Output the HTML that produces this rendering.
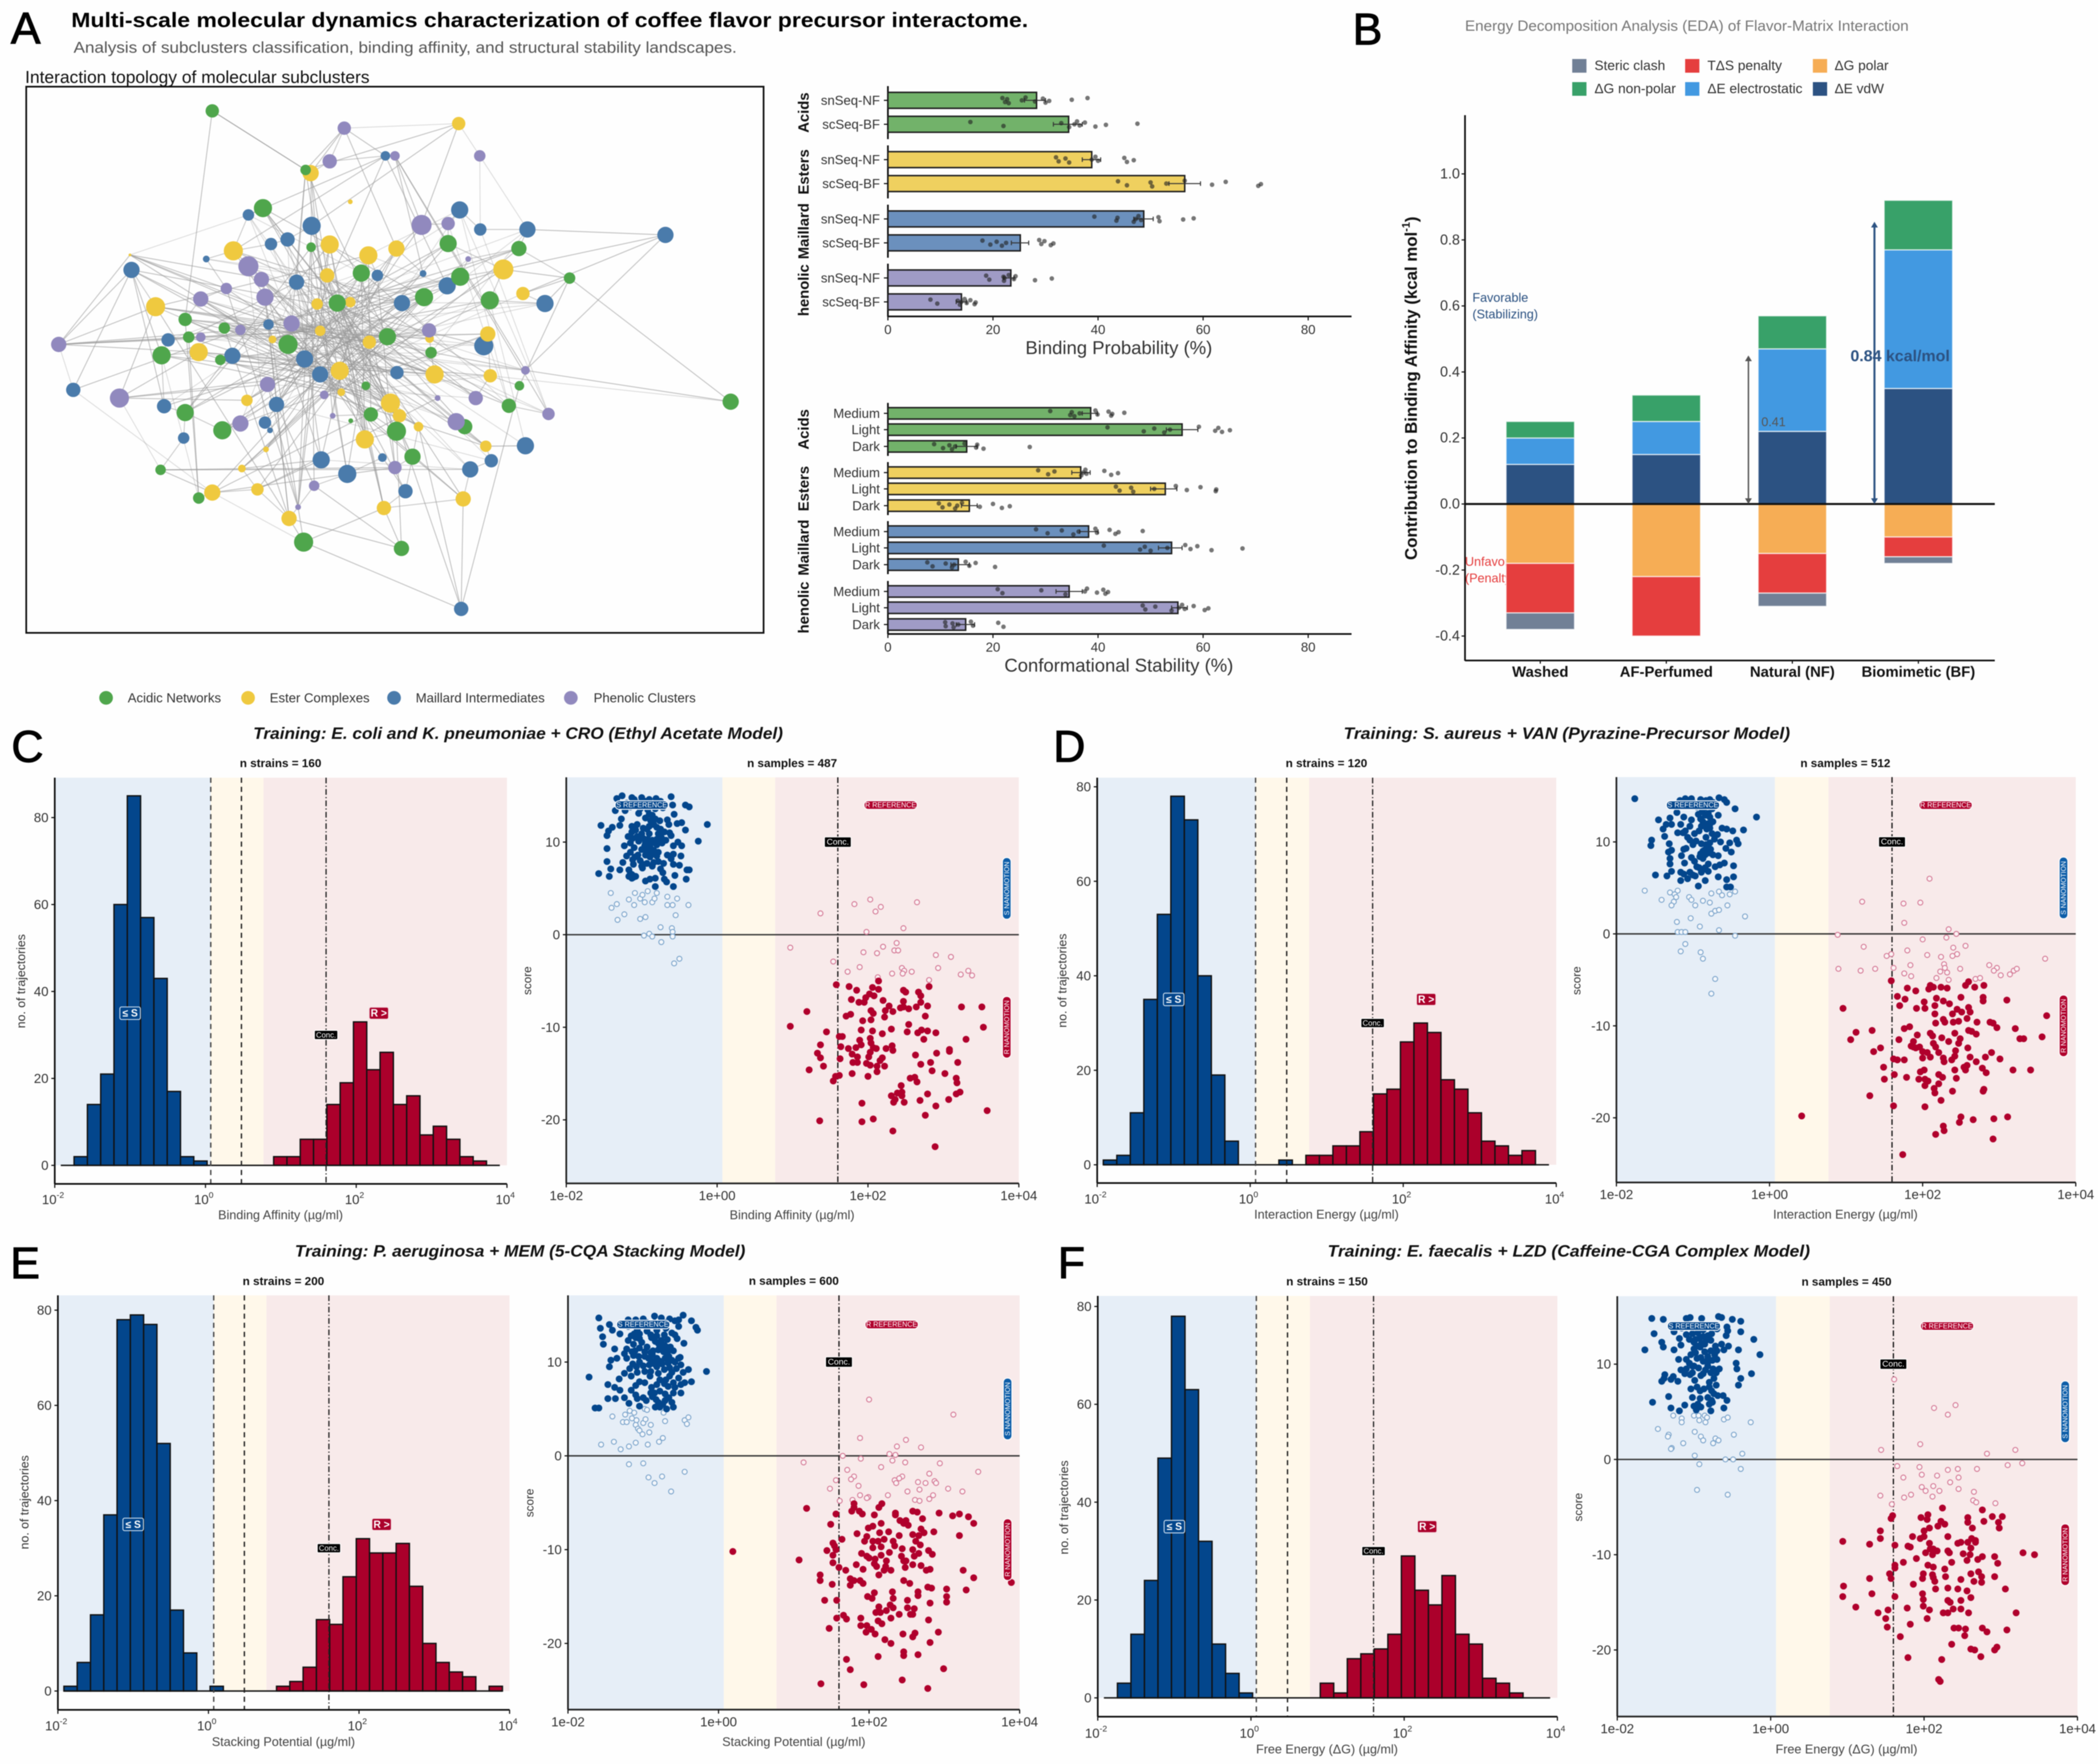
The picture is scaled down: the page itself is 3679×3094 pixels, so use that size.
<!DOCTYPE html>
<html lang="en">
<head>
<meta charset="utf-8">
<title>Coffee flavor precursor interactome</title>
<style>
html,body{margin:0;padding:0;background:#fff;}
svg{display:block;filter:blur(.8px);font-family:"Liberation Sans",sans-serif;}
</style>
</head>
<body>
<svg id="chart" xmlns="http://www.w3.org/2000/svg" width="3679" height="3094" viewBox="0 0 3679 3094">
<defs>
<clipPath id="clip-facet-1"><rect x="1380" y="455" width="60" height="100"/></clipPath>
<clipPath id="clip-facet-2"><rect x="1380" y="1012" width="60" height="100"/></clipPath>
</defs>
<rect x="0" y="0" width="3679" height="3094" fill="#fefefe"/>
<text x="19" y="76" font-size="78" fill="#000" stroke="#000" stroke-width="1.6">A</text>
<text x="2372" y="78" font-size="78" fill="#000" stroke="#000" stroke-width="1.6">B</text>
<text x="20" y="1336" font-size="78" fill="#000" stroke="#000" stroke-width="1.6">C</text>
<text x="1847" y="1336" font-size="78" fill="#000" stroke="#000" stroke-width="1.6">D</text>
<text x="18" y="2242" font-size="78" fill="#000" stroke="#000" stroke-width="1.6">E</text>
<text x="1855" y="2242" font-size="78" fill="#000" stroke="#000" stroke-width="1.6">F</text>
<text x="125" y="35" font-size="36" font-weight="bold" fill="#000" dominant-baseline="central" textLength="1678" lengthAdjust="spacingAndGlyphs">Multi-scale molecular dynamics characterization of coffee flavor precursor interactome.</text>
<text x="129" y="83" font-size="28" fill="#555" dominant-baseline="central" textLength="1163" lengthAdjust="spacingAndGlyphs">Analysis of subclusters classification, binding affinity, and structural stability landscapes.</text>
<text x="44" y="135" font-size="31" fill="#111" dominant-baseline="central" textLength="604" lengthAdjust="spacingAndGlyphs">Interaction topology of molecular subclusters</text>
<rect x="46" y="152" width="1293" height="958" fill="none" stroke="#111" stroke-width="3"/>
<g id="network"></g>
<g id="network-legend"></g>
<g id="bars"></g>
<text x="2569" y="45" font-size="26" fill="#777" dominant-baseline="central" textLength="778" lengthAdjust="spacingAndGlyphs">Energy Decomposition Analysis (EDA) of Flavor-Matrix Interaction</text>
<text x="2475" y="681" font-size="29.5" font-weight="bold" fill="#111" text-anchor="middle" dominant-baseline="central" transform="rotate(-90 2475 681)">Contribution to Binding Affinity (kcal mol<tspan dy="-9" font-size="19">-1</tspan><tspan dy="9">)</tspan></text>
<text x="2569" y="985" font-size="22" fill="#e53e3e" dominant-baseline="central">Unfavorable</text>
<text x="2569" y="1014" font-size="22" fill="#e53e3e" dominant-baseline="central">(Penalty)</text>
<text x="2582" y="522" font-size="22" fill="#2c5282" dominant-baseline="central">Favorable</text>
<text x="2582" y="551" font-size="22" fill="#2c5282" dominant-baseline="central">(Stabilizing)</text>
<g id="eda"></g>
<text x="444" y="1287" font-size="29" font-weight="bold" font-style="italic" fill="#111" dominant-baseline="central" textLength="929" lengthAdjust="spacingAndGlyphs">Training: E. coli and K. pneumoniae + CRO (Ethyl Acetate Model)</text>
<text x="2356" y="1287" font-size="29" font-weight="bold" font-style="italic" fill="#111" dominant-baseline="central" textLength="783" lengthAdjust="spacingAndGlyphs">Training: S. aureus + VAN (Pyrazine-Precursor Model)</text>
<text x="517" y="2195" font-size="29" font-weight="bold" font-style="italic" fill="#111" dominant-baseline="central" textLength="790" lengthAdjust="spacingAndGlyphs">Training: P. aeruginosa + MEM (5-CQA Stacking Model)</text>
<text x="2328" y="2195" font-size="29" font-weight="bold" font-style="italic" fill="#111" dominant-baseline="central" textLength="846" lengthAdjust="spacingAndGlyphs">Training: E. faecalis + LZD (Caffeine-CGA Complex Model)</text>
<g id="panels"></g>
</svg>
<script>
/* ---------- network data: force-layout coordinates [x,y,size] ---------- */
const nodesAcidic=[423,244,14,609,374,11,524,458,19,620,544,10,893,536,18,1034,547,16,1135,612,12,917,609,19,720,601,18,845,654,19,976,661,19,672,667,18,369,703,14,447,722,12,376,742,12,772,741,18,574,758,20,859,776,12,322,782,19,439,792,11,729,849,9,1035,849,10,1014,893,15,369,908,18,739,912,15,926,939,16,699,926,5,443,947,19,790,949,20,822,1005,17,320,1034,11,396,1096,12,605,1193,20,800,1207,16,1456,884,17];
const nodesEster=[914,272,14,619,381,17,698,444,5,465,552,20,657,538,19,734,562,19,790,547,17,259,561,3,1003,593,21,652,606,15,1042,646,14,310,675,20,632,669,12,698,665,11,638,728,11,543,747,8,856,745,9,972,735,16,736,753,14,396,775,19,677,816,19,866,824,19,977,827,14,680,863,8,492,881,12,778,887,20,796,915,14,834,939,10,727,967,19,968,982,12,530,989,6,482,1031,8,513,1077,13,423,1084,17,923,1098,16,765,1118,15,576,1141,16];
const nodesMaillard=[768,343,10,916,462,18,495,473,12,957,505,13,1051,505,17,621,497,19,573,527,15,540,537,13,1326,517,17,262,594,17,411,570,7,752,606,12,843,602,7,591,621,16,891,629,18,801,667,17,1086,668,18,535,714,11,335,748,14,964,761,20,463,783,17,607,790,18,638,824,17,791,820,14,146,858,15,551,890,16,327,894,15,528,930,13,538,947,6,366,964,12,1047,981,18,979,1014,14,640,1012,18,762,1007,9,937,1033,17,692,1043,19,808,1081,15,919,1340,15];
const nodesPhenolic=[686,282,14,787,343,10,956,343,12,657,355,15,840,495,21,893,492,14,933,570,6,495,586,21,521,615,16,451,635,12,400,658,16,528,654,18,581,712,17,479,726,11,855,727,15,400,742,10,117,758,16,1047,815,9,533,846,16,646,869,9,872,876,6,948,876,15,238,876,20,663,915,6,479,932,17,909,928,18,1093,911,13,787,1029,14,626,1069,11,594,1116,6];
const edgesStrong=[0,1,0,36,0,12,110,36,110,72,110,41,110,1,35,114,35,77,35,1,72,74,72,86,72,38,72,97,111,84,111,136,111,114,111,127,36,44,36,133,80,76,80,43,80,127,80,45,6,34,6,21,6,88,6,43,6,45,34,127,109,32,109,62,109,21,109,69,109,60,33,71,33,138,33,70,33,28,32,71,32,139,32,70,126,81,126,46,126,125,126,123,126,14,126,54,126,90,96,81,96,123,132,128,132,59,132,94,132,46,132,54,42,49,42,87,42,94,42,126,42,119,42,122,81,98,81,47,81,94,81,18,81,50,46,40,46,49,46,15,46,71,31,68,31,12,31,14,30,68,30,106,30,137,66,104,67,104,68,137,38,48,38,87,38,94,39,124,39,63,39,47,40,24,40,104,41,97,41,94,41,129,44,57,44,60,44,131,47,91,47,56,48,128,48,99,49,22,49,127,49,10,50,43,50,52,50,9,53,107,53,98,53,46,54,57,54,56,54,64,55,10,55,43,55,92,56,122,56,120,58,5,58,121,59,9,59,86,59,84,60,120,60,118,60,119,61,13,61,85,62,89,62,38,63,85,63,77,63,8,64,122,64,47,64,118,65,15,65,4,65,114,66,15,66,9,67,53,67,130,68,94,68,60,69,50,69,11,69,94,70,11,70,44,70,39,71,89,71,121,71,13,139,77,139,39,139,47,139,121,139,128,139,119,138,3,138,97,104,118,104,85,107,47,107,3,108,49,108,122,137,8,137,83,29,11,28,85,28,120,27,87,27,15,27,52,25,47,25,44,24,118,23,3,23,39,23,87,23,49,19,56,19,60,19,95,19,124,18,58,18,94,14,85,14,49,14,60,13,9,13,51,12,15,12,53,12,95,12,61,12,60,11,22,11,131,9,99,9,58,8,97,8,122,7,50,7,123,7,47,5,50,5,11,4,49,4,11,3,60,3,28,2,60,2,53,2,11,2,47,2,9,1,122,1,58,1,15,1,85];
const edgesFaint=[110,35,35,112,112,76,112,75,96,126,96,68,32,68,132,30,42,74,34,57,31,18,30,66,115,22,115,47,116,53,117,11,117,15,117,60,118,95,119,53,120,53,120,56,121,86,121,17,122,91,122,130,123,95,124,49,124,122,125,88,125,52,125,49,127,14,127,47,127,50,128,131,129,57,130,54,131,53,133,8,134,8,134,85,134,87,135,94,135,13,136,53,136,73,136,75,136,15,106,47,106,49,106,104,103,53,103,97,102,53,102,64,102,10,100,8,99,117,98,47,97,45,95,52,94,57,93,10,92,17,91,50,90,49,90,15,90,8,89,76,88,48,88,15,87,22,86,40,85,17,84,50,83,122,83,94,82,44,82,9,79,49,79,94,78,122,78,53,78,94,77,29,76,15,76,17,74,122,74,49,74,85,74,8,73,53,73,22,73,44];
const edgesLocal=[10,88,4,43,7,43,43,10,45,88,52,57,57,21,22,136,64,102,64,103,106,103,69,106,108,70,70,69,29,108,29,137,105,107,107,138,138,139,67,68,66,67,71,139,71,67,65,66,100,99,134,27,27,23,23,101,101,30,98,23,18,98,90,18,14,90,54,18,12,46,46,81,120,12,119,120,82,119,38,82,74,38,2,74,79,38,78,79,77,78,36,77,113,36,113,110,113,72,111,72,114,41,115,114,73,115,4,115,75,73,76,75,5,76,116,5,6,5,7,86,9,87,15,53,17,51,56,17,131,57,135,25,62,61,28,63,29,62,60,24,133,24,129,58,94,55,93,16,97,128,92,19,125,14,13,123,89,50,121,118,85,44,3,39,40,83,41,84,116,7];
const legendNames=['Acidic Networks','Ester Complexes','Maillard Intermediates','Phenolic Clusters'];

/* ---------- bar chart data ---------- */
const barGroups=['Acids','Esters','Maillard','Phenolic'];
const bindCategories=['snSeq-NF','scSeq-BF'];
const bindMeans=[[28.3,34.4],[38.8,56.5],[48.7,25.2],[23.4,14]];
const bindErrLow=[[26,31.5],[37,53.5],[46.8,23.5],[22,13]];
const bindErrHigh=[[30,37],[40.5,59.5],[50.5,26.8],[24,15]];
const bindPoints=[
[[21.8,22.3,22.7,23,25.5,26.2,28,29.5,30,30.7,35,38],[15.7,22,33,34.5,35.5,36,36.5,37.5,39.5,41.5,47.5]],
[[32,32.5,33.8,34.5,38.8,39.5,40,45,45.5,46.8],[43.8,45.5,50,50.3,53,56.5,61.7,64.3,70.5,71]],
[[39.3,43.5,43.7,46.8,47.2,47.7,48.2,51.5,51.7,56.2,58.2],[18,19.5,20.7,21.7,22.5,28.8,29.2,29.8,31,31.5]],
[[18.7,19.3,22,22.1,22.2,23,24,24.3,28,31.2],[8.1,9.4,13.3,13.7,14,14.6,15,15.7,16.5,16.7]]];
const stabCategories=['Medium','Light','Dark'];
const stabMeans=[[38.6,56,15],[36.7,52.8,15.5],[38.2,54,13.4],[34.5,55.2,14.8]];
const stabErrLow=[[37,53,13],[35,50,14],[36.5,51.5,12],[32,54,13]];
const stabErrHigh=[[39.9,59,17],[38.5,55,17],[40,56,15.5],[37,57,16.5]];
const stabPoints=[
[[30.9,34.7,35,35.5,36.5,39.5,39.9,42,42.5,42.7,45],[41.8,48.7,50.7,52.6,53.7,59.2,62.3,62.9,63.6,65.1],[8.8,10.5,11.7,12.2,12.8,14.6,16.8,17,18.2,27]],
[[28.6,30.5,31.7,36.8,37.2,37.6,37.8,41.2,42.5,43.8],[43.4,44.1,46.3,46.7,50.7,54.8,56.9,59.5,62.4,62.5],[9.7,10.4,11.7,12.8,13.2,14.1,17.5,20,21.7,23.2]],
[[28.2,30.4,33.1,35.3,36.3,39.5,39.8,42.2,43.3,43.9,48.5],[41.1,48,48.9,50,53.2,56.6,57.6,58.9,61.6,67.5],[7.5,8.5,11,12.2,12.6,14.8,15.5,16.7,20.4]],
[[20.9,21.8,29.2,33.8,37.5,37.9,39.8,41,41.4,41.9],[48.5,49,50.9,54,55.4,56,56.5,58.2,60.3,61],[10.9,11,12.3,12.5,13.4,15.8,16.2,21,22]]];
const barTicks=[0,20,40,60,80];

/* ---------- energy decomposition data ---------- */
const edaCategories=['Washed','AF-Perfumed','Natural (NF)','Biomimetic (BF)'];
const edaVdw=[.12,.15,.22,.35];
const edaElectrostatic=[.08,.10,.25,.42];
const edaNonPolar=[.05,.08,.10,.15];
const edaPolar=[.18,.22,.15,.10];
const edaEntropy=[.15,.18,.12,.06];
const edaSteric=[.05,0,.04,.02];
const edaTicks=[1,.8,.6,.4,.2,0,-.2,-.4];
const edaGapSmall=.45;
const edaGapLarge=.855;

/* ---------- histogram bin counts ---------- */
const histCountsC=[0,2,14,21,60,85,57,43,17,2,1,0,0,0,0,0,2,2,6,6,14,19,33,22,26,14,16,7,9,6,2,1,0];
const histCountsD=[1,2,11,35,53,78,73,40,19,5,0,0,0,1,0,2,2,4,4,7,15,16,26,30,28,18,16,11,5,4,2,3,0];
const histCountsE=[1,6,16,37,78,79,77,52,17,8,0,1,0,0,0,0,1,2,5,15,14,24,32,29,29,31,22,10,6,4,3,0,1];
const histCountsF=[0,3,13,24,49,78,63,32,11,5,1,0,0,0,0,0,3,1,8,9,10,13,29,22,19,25,13,11,4,3,1,0,0];
const histTicks=[0,20,40,60,80];
const logTicks=[-2,0,2,4];
const scoreTicks=[10,0,-10,-20];
const scatterTickLabels=['1e-02','1e+00','1e+02','1e+04'];

/* ---------- scatter data, flat pairs: log10(value), score ---------- */
const susFilledC=[-1.54,11.8,-1.57,6.6,-1.46,9.3,-1.46,7.9,-1.41,7.1,-1.43,6.3,-1.46,10.7,-1.44,11.2,-1.39,11.6,-1.29,11.8,-1.27,12.5,-1.33,14.7,-1.26,15,-1.13,14.8,-1,14.8,-.81,14.7,-.61,14.9,-.59,14,-.42,14,-.37,13.8,-1.35,13.4,-1.22,13.4,-1.04,13.1,-.86,12.9,-.57,13,-.76,12.3,-.66,12.4,-.64,11.9,-.53,12,-.47,12.1,-.13,11.9,-.42,11.3,-.25,10.1,-.63,11,-.61,10.7,-.52,10,-.58,9.6,-.47,9.6,-.48,8.5,-.58,8.7,-.66,8.6,-.61,8.2,-.58,7.6,-.5,7.5,-.4,7,-.37,7,-.56,6.4,-.41,6,-.58,5.2,-.67,5.7,-.7,6,-.82,6.1,-.89,6,-.95,5.8,-.82,5.2,-1.29,7,-1.25,7.8,-1.17,6.3,-1.13,6.5,-1.11,6.2,-1.11,7.6,-1,7.4,-.99,7.2,-.86,7.4,-.78,7.9,-.71,7.7,-.75,7.1,-.72,6.7,-1.2,8.5,-1.15,8.9,-1.23,9.6,-1.18,10.6,-1.13,11.1,-1.06,11.9,-1.13,11.7,-1,10.9,-.93,11.4,-.86,12.1,-.8,11.6,-.9,10.9,-.78,10.9,-1.04,10.1,-.95,9.9,-.87,9.9,-.8,9.7,-.73,9.9,-1,9.2,-.91,9.4,-.84,9.1,-.95,8.6,-.89,8.4,-1.1,9.4,-1.09,8.4,-.78,8.9,-1.02,8,-1.2,14.2,-1.1,14.6,-1.05,14.2,-.95,14.4,-.9,14.6,-.75,14.4,-.72,14.1,-.85,14.1,-1.15,13.8,-1.02,13.6,-.92,13.5,-.82,13.6,-.72,13.7,-.9,13,-.82,12.5,-.95,12.6,-.88,12.3,-.84,11.9,-.9,11.7,-.98,11.5,-1.08,11.3,-.75,11.4,-.7,11.1,-1.12,10.4,-1.06,10.6,-.98,10.4,-.92,10.3,-.86,10.2,-.8,10.3,-.74,10.5,-.68,10.2,-1.15,9.9,-.96,9.6,-.9,9.9,-.88,9.3,-.93,9.1,-.9,8.8,-.86,8.7,-.8,8.5,-1.05,8.6,-1.12,8.1,-.98,7.6,-.93,7.7,-.84,7.8,-1.17,7,-1.08,6.3,-1.15,6.6,-1.13,6.1];
const susOpenC=[-1.41,4.5,-1.33,3.3,-1.4,2.9,-1.32,1.6,-1.23,2.2,-1.17,3.8,-1.1,3.2,-1.09,4.5,-1.02,3.9,-.99,4.3,-.96,3.5,-.92,4.7,-.86,3.5,-.83,3.9,-.8,4.5,-.66,4.1,-.66,3.2,-.59,3.2,-.53,3.9,-.38,3.2,-.55,2.1,-1.02,1.7,-.95,1.9,-.75,.8,-.6,.7,-.59,.3,-.59,-.2,-.97,-.1,-.9,.1,-.86,-.2,-.74,-.8,-.5,-2.6,-.57,-3.1];
const resFilledC=[1.58,-5.4,1.75,-5.6,1.85,-6,2.06,-5.7,2.14,-5,2.14,-5.9,2.08,-6.6,2.02,-6.4,1.97,-6.8,1.78,-7,1.88,-7.3,1.95,-7.3,2.2,-7.1,2.28,-7.7,2.47,-6,2.5,-6.2,2.67,-6.2,2.7,-6.6,2.81,-5.6,2.47,-7.2,2.47,-7.8,2.54,-8,2.43,-7.9,2.64,-7.8,2.7,-7.3,2.79,-7.7,2.76,-8.8,3.24,-7.8,3.51,-7.8,3.53,-10,3.3,-11.3,1.19,-8.3,.97,-9.9,1.45,-10.5,1.71,-8.8,1.77,-8.6,2.04,-8.2,2.07,-8.5,1.93,-9.3,2.04,-9.2,2.23,-8.2,2.22,-8.9,2.33,-8.3,2.54,-9.7,2.52,-10.5,2.66,-10.6,2.71,-10.3,2.79,-10.4,2.74,-11.3,2.9,-10.6,2.31,-10.2,2.19,-10.7,2.06,-10.4,1.91,-10.3,1.62,-11,1.66,-11,1.37,-11.9,1.64,-12.1,1.74,-12.3,1.84,-12.2,1.89,-11.4,1.91,-11.9,2.03,-11.2,2.04,-11.7,2.07,-12.2,2.11,-12.3,2.03,-12.7,2.24,-12.3,2.32,-12,2.33,-12.5,1.33,-12.8,1.37,-13.3,1.41,-14.2,1.22,-14.6,1.63,-13.4,1.79,-12.9,1.86,-13.2,1.8,-13.8,1.86,-13.8,2.01,-13.2,1.98,-13.9,2.03,-14.1,2.19,-13.3,2.16,-13.6,2.12,-14.2,2.22,-14.2,2.12,-14.8,1.79,-15,2,-15.3,1.62,-15.2,1.57,-15.3,1.54,-15.8,2.63,-13,2.7,-14,2.83,-13.8,2.91,-12.8,3.08,-12.4,3.08,-12.6,3.19,-13.8,2.85,-14.7,3.02,-15,2.56,-15.5,2.62,-15.4,2.65,-15.9,3.17,-15.5,3.18,-16,2.44,-16.3,2.39,-17.1,2.45,-17,2.31,-17.4,2.45,-17.4,2.79,-17.2,3.17,-17.2,3.22,-17,3.07,-17.8,2.69,-17.9,2.48,-18.1,2.36,-17.8,2.34,-18.1,1.92,-18.2,2.9,-18.5,3.58,-19,2.76,-19.5,1.36,-20.1,1.92,-20.2,2.07,-19.9,2.33,-21.2,2.89,-22.9];
const resOpenC=[1.37,2.3,1.82,3.3,2.03,3.8,2.1,2.5,2.17,3,2.65,3.5,2.47,.7,1.98,.3,.97,-1.4,1.94,-1.9,2.12,-2,2.2,-1.3,2.35,-1.7,2.38,-.9,2.4,-1.7,2.9,-2.2,3.1,-2.4,1.54,-2.9,1.73,-4,1.89,-3.5,2.32,-4.2,2.45,-3.6,2.48,-3.9,2.46,-4.2,2.58,-4,2.93,-3.6,3.23,-4.3,3.33,-3.9,3.38,-4.4,2.13,-4.6,2.81,-4.9];

const susFilledD=[-1.76,14.7,-.66,14.8,-.59,14.6,-.56,14.3,-.45,13.6,-.17,12.7,-.34,11.3,-.48,11.2,-.56,11.4,-.62,11.5,-1.45,12.4,-1.3,12.6,-1.35,11.9,-1.39,11.4,-1.28,11.9,-1.54,10.2,-1.55,9.6,-1.37,10.6,-1.31,9.8,-1.28,9.1,-1.32,8.9,-1.3,8.2,-1.3,7.6,-1.49,6.4,-1.34,6.3,-1.28,6.8,-1.16,5.8,-1.07,6,-1.16,6.7,-1.04,6.7,-.97,6.3,-.93,5.2,-.89,6.7,-.84,5.8,-.8,6.8,-.71,7.3,-.67,6.2,-.56,5.9,-.47,6.2,-.56,5.1,-.51,5.1,-.47,7.4,-.59,7.7,-.65,7.5,-.5,8.9,-.64,10,-.52,9.9,-.57,9.3,-.43,10.2,-.41,9.8,-.67,8.5,-.68,10.8,-.67,12.9,-1.02,14.7,-1.17,14.5,-.83,14.5,-1.21,13.2,-1.12,12.7,-1.02,12.4,-.93,13,-.84,12.9,-.87,12.2,-.8,12,-.89,11.7,-.78,11.5,-1.16,11.9,-1.04,11.7,-1.2,11,-1.07,10.5,-.98,10.9,-.83,10.5,-.96,10.1,-.89,9.8,-1,9.7,-1.09,9.3,-.8,9.5,-.85,9.1,-.77,9.2,-.91,8.4,-.87,8.2,-1.15,8.5,-1.11,7.7,-1.02,8.3,-.8,7.6,-.95,7.3,-1.1,14.7,-1.05,14.4,-.98,14.2,-.9,14.6,-.78,14.6,-.74,14.3,-1.1,14.1,-.95,13.8,-.85,13.7,-.75,13.6,-.88,13.3,-.8,13.1,-.78,12.7,-.9,12.5,-.84,11.9,-.78,11.9,-.74,12.2,-.82,11.4,-.92,11.2,-1.1,11.2,-1.13,11,-.75,10.9,-.72,10.3,-1.04,10.2,-.83,9.7,-.78,9.9,-.87,9,-.84,8.6,-.9,8.7,-.8,8.8,-.74,8.6,-1.12,9.2,-.98,7.9,-.92,7.2,-.84,7.2,-.88,6.9,-1,6.4,-1.12,6.5];
const susOpenD=[-1.63,4.7,-1.41,3.7,-1.3,4.5,-1.2,4.7,-1.24,4.3,-1.22,4,-1.25,3.5,-1.28,3.1,-1.05,4,-1.02,3.7,-.97,3.1,-.87,3.6,-.78,3.4,-.76,4.4,-.66,4.6,-.62,4.2,-.52,4.3,-.45,4.6,-.55,3.1,-.76,2.2,-.71,2.5,-.66,2.6,-.32,1.9,-1.21,1.3,-1.03,1.7,-.91,.8,-.66,.4,-1.2,.2,-1.15,.2,-1.1,.2,-.45,-.2,-1.1,-1.1,-1.16,-1.9,-.9,-2,-.87,-2.7,-.71,-4.9,-.76,-6.5];
const resFilledD=[1.59,-5.1,1.8,-5.9,1.91,-6.2,2.08,-6,2.1,-5.6,2.14,-5.8,2.24,-5.8,2.32,-5.9,2.56,-5.6,2.6,-5.2,2.68,-5.8,2.8,-5.6,1.67,-6.8,1.77,-7.1,1.7,-7.8,2.02,-7.4,2.18,-7,2.27,-7.3,2.35,-7.6,2.5,-6.9,2.79,-6.9,2.79,-7.3,3.1,-7.2,.96,-8.1,1.92,-8.1,2.03,-8.1,2.16,-7.8,2.16,-8.7,2.45,-8.2,2.39,-8.7,2.51,-8.5,2.6,-8,2.62,-8.5,3.62,-8.9,2.58,-9.2,2.27,-9.3,2.29,-9.6,2.4,-9.6,2.47,-9.5,2.71,-9.6,2.88,-9.6,2.92,-9.7,2.17,-9.7,2.97,-10.2,3.21,-10.3,1.13,-10.7,1.06,-11.5,1.34,-10.5,1.76,-10.3,1.83,-10.1,1.93,-11,2.1,-10.8,2.13,-11.1,2.42,-10.8,2.6,-10.5,2.64,-10.6,2.7,-10.9,2.25,-11.3,2.49,-11.4,2.34,-11.7,2.47,-11.9,1.69,-11.5,1.88,-11.7,2.14,-11.9,2.17,-12.3,3.27,-11.4,3.32,-11.4,3.56,-11.2,1.85,-12.2,1.91,-12.4,1.96,-12.3,1.88,-12.3,1.45,-12.4,1.36,-12.8,2,-12.8,2.06,-12.9,2.21,-12.9,2.43,-12.7,2.59,-12.4,2.9,-12.9,1.62,-13.6,1.67,-13.7,1.76,-13.7,2,-13.5,2.1,-13.4,2.27,-13.5,2.28,-13.9,2.38,-13.7,2.42,-13.3,2.62,-13.4,2.7,-13.9,2.82,-13.4,3.01,-13.6,1.49,-14.5,1.97,-15,2.02,-14.8,2.42,-14.8,2.54,-14.5,2.58,-14.3,2.56,-14.8,2.78,-14.6,2.83,-15.1,3.18,-14.8,3.41,-14.8,1.5,-15.8,1.63,-15.3,1.79,-15.6,1.95,-15.8,2.03,-15.8,2.07,-16,2.21,-15.3,2.26,-15.6,2.44,-15.7,2.21,-16.3,2.03,-16.5,2.15,-16.8,2.16,-17.3,2.39,-17.1,2.79,-17.1,2.8,-16.9,1.31,-17.6,2.24,-18.1,1.62,-18.7,2.03,-18.8,.42,-19.8,2.5,-19.9,2.48,-20.5,2.66,-20.2,2.93,-20.1,3.11,-19.9,2.27,-20.9,2.28,-21.4,2.17,-21.8,2.92,-22.3,1.74,-24];
const resOpenD=[2.09,6,1.21,3.5,1.75,3.3,1.97,3.4,1.76,1.2,2.34,.5,2.44,0,2.31,-.4,2,-.6,.89,-.1,1.23,-1.4,1.8,-1.8,2.4,-1.5,2.56,-1.3,2.45,-2.2,2.39,-2.4,2.24,-2.5,2.06,-2.3,1.53,-2.4,1.59,-2.2,1.84,-3.4,1.62,-3.7,1.38,-3.8,.9,-3.8,1.19,-4,1.76,-4.3,1.85,-4.6,2.28,-3.3,2.29,-3.7,2.23,-4.1,2.32,-4.2,2.49,-3.8,2.18,-4.8,2.34,-5,2.69,-4.9,2.75,-4.8,2.87,-3.4,2.97,-3.7,2.93,-4,3.02,-4.5,3.14,-4.4,3.19,-4,3.23,-3.8,3.6,-2.7];

const susFilledE=[-1.59,14.7,-1.57,13.6,-1.54,12.7,-1.53,11.9,-1.72,8.4,-1.64,5.1,-1.59,5.1,-1.47,7.6,-1.47,6.1,-1.37,6.1,-1.38,7.3,-1.31,7,-1.32,8.2,-1.45,9.5,-1.43,10.2,-1.35,10.4,-1.38,11.4,-1.31,13,-1.45,14,-1.41,13.4,-1.2,14.5,-1.1,14.5,-.85,14.9,-.76,14.7,-.65,14.6,-.58,14.4,-.47,15,-.53,14.5,-.36,14.4,-.3,13.7,-.28,13.4,-.53,13.8,-.62,13.1,-.58,12.9,-.55,12.5,-.46,12,-.69,11.6,-.76,12.3,-.89,12.6,-1.05,12.5,-1.16,12.8,-1.2,12.3,-1.13,11.9,-1.02,12.1,-1.22,11.4,-1.11,11.2,-.98,11.1,-.87,11.2,-.78,11.6,-.73,11.1,-1.22,10.4,-1.13,10.7,-1.05,10,-.93,10.4,-.82,10.4,-.71,10.4,-.62,10.2,-.53,10.4,-.51,10.5,-1.25,8.8,-1.18,9.3,-1.09,9.5,-.98,9,-.82,9.5,-.67,9.9,-.56,9.3,-.4,9.2,-.16,9,-1.16,8.5,-1.05,7.9,-.91,8.5,-.78,8.1,-.65,8.5,-.53,8.3,-.45,7.8,-.36,7.9,-.67,7.4,-.58,7.3,-.89,7.3,-.85,6.7,-.5,6.7,-1.16,7,-1,6.2,-.96,5.9,-1.25,6.2,-1.19,5.6,-1.05,5.3,-.8,5.7,-.71,5.9,-.62,5.7,-.78,5.2,-.69,5,-.71,6.6,-1.2,13.8,-1.1,14,-1,14.6,-.95,14.2,-.85,14.2,-.7,14.2,-.7,13.6,-.82,13.4,-.95,13.3,-1.08,13.4,-1.12,13,-1.05,13,-.9,12.9,-.82,12.8,-.72,12.9,-.68,12.4,-1.1,12.6,-.84,12.2,-.8,12,-.72,11.8,-.64,11.6,-.6,11.2,-.95,11.6,-1.05,11.5,-1.15,11.1,-.9,11,-.8,11.3,-.68,11,-.88,10.8,-1.06,10.6,-.98,10.6,-1.25,10.9,-.88,10.1,-.78,10.1,-.66,10.6,-.58,10,-1.14,9.8,-1,9.6,-.92,9.7,-.85,9.8,-.75,9.8,-.65,9.4,-.5,9.7,-.72,9.2,-.9,9,-1.08,8.9,-.8,8.8,-.62,8.9,-.47,8.9,-.7,8.1,-.6,7.8,-.5,7.6,-.98,7.8,-1.1,7.5,-.82,7.6,-.72,7.7,-.78,6.9,-.6,6.7,-.66,6.2,-.88,6.3,-.83,6,-.9,6.7,-1.08,6.1,-1.1,6.5,-.74,5.5,-.6,5.2,-.84,5.2];
const susOpenE=[-1.41,4.2,-1.24,4.4,-1.18,4.8,-1.12,4.6,-1.27,3.6,-1.22,3.6,-1.15,4,-1.09,3.8,-1.1,3.3,-1.07,2.9,-1.05,2.7,-1.01,2.3,-1,3.5,-.97,3.9,-.9,3.3,-.98,5,-.95,4.9,-.73,4.6,-.71,3.7,-.92,2.5,-.45,3.8,-.4,4.1,-.42,3.4,-.74,1.9,-.79,1.5,-.94,1.2,-1.1,1.4,-1.19,1,-1.3,.7,-1.39,1.5,-1.56,1.2,-1.19,-.9,-1,-.8,-.45,-1.7,-.93,-2.3,-.75,-2.2,-.85,-2.9,-.63,-3.8];
const resFilledE=[1.17,-5.6,1.8,-5.1,1.8,-5.5,1.77,-5.9,1.87,-5.9,1.91,-6.2,2.13,-5.5,2.17,-5.1,2.07,-6.3,1.56,-6.2,2.35,-6.1,2.35,-6.3,2.58,-5.9,2.64,-6,2.71,-6.7,2.93,-6.1,3.11,-6.4,3.2,-6.2,3.32,-6.5,3.39,-7.2,1.49,-7.3,2.05,-7.5,1.99,-7.7,2.16,-7.2,2.41,-6.9,2.49,-6.9,2.46,-7.2,2.52,-7.4,2.69,-7.8,2.73,-8.2,2.86,-8.1,3.2,-8.5,1.84,-8.3,1.97,-8.6,2.14,-8.2,2.26,-8.1,2.4,-8.5,2.58,-8.4,2.66,-8.5,1.64,-8.9,1.52,-9.3,1.94,-9.1,2.05,-9.1,2.12,-9.1,2.2,-8.9,2.32,-9.1,2.62,-9.1,1.54,-9.6,1.56,-10,2.05,-9.8,2.16,-9.7,2.34,-9.6,2.44,-9.9,2.68,-9.5,2.58,-10,2.79,-10.1,2.84,-10.5,.19,-10.2,1.44,-10.1,1.52,-10.6,1.9,-10.4,1.97,-10.7,2,-10.9,2.08,-11,2.16,-10.6,2.27,-10.3,2.43,-10.7,2.66,-10.4,2.6,-10.7,1.07,-11.1,1.52,-11.4,1.83,-11.6,2.07,-11.5,2.23,-11.2,2.46,-11.2,2.49,-11.2,2.58,-11.6,2.69,-11.7,2.22,-11.8,2.1,-11.8,2.2,-12.2,1.6,-11.9,1.69,-12.2,1.92,-12.1,2.29,-12.2,2.48,-11.9,2.76,-12.2,2.81,-12.1,3.25,-12.2,2.13,-12.7,1.35,-12.7,1.35,-13.3,3.39,-13,1.75,-13.1,1.8,-13.3,1.88,-13.3,1.92,-13.6,1.75,-13.8,1.51,-13.7,2.46,-13.3,2.54,-13.6,3.03,-14.2,2.78,-14,2.83,-14.1,3.29,-14.3,2.31,-14.5,2.07,-14.6,2.65,-14.5,2.65,-14.9,1.98,-15,2.04,-15.2,2.32,-15.2,2.51,-15.4,3.03,-15,3.03,-15.6,1.41,-15.4,1.57,-15.4,2.81,-15.7,2.13,-16.1,2.28,-15.9,2.32,-16.2,2.51,-16.2,2.6,-16.3,2.09,-16.7,2.15,-16.7,2.23,-16.5,2.4,-16.9,2.55,-16.9,2.58,-16.9,1.57,-17.3,1.66,-17,1.7,-17.4,1.89,-17.3,2.29,-17.3,2.79,-17.5,2.12,-17.6,2.17,-17.9,1.89,-18.1,1.97,-18.1,1.47,-18.4,2.03,-18.5,1.96,-18.8,2.92,-18.8,2.08,-19,2.45,-19,2.61,-18.9,2.58,-19.3,2.21,-19.6,2.29,-20,2.81,-19.9,2.12,-21.4,2.46,-20.9,2.46,-21.3,2.65,-21.2,1.7,-21.7,2.99,-22.7,1.75,-22.8,2.44,-23.9,1.36,-24.3,1.93,-24.4,2.78,-24.8,3.89,-13.5];
const resOpenE=[2,6,3.12,4.4,1.88,1.9,2.49,1.7,2.37,1,2.69,.9,2.27,.2,2.35,.1,1.65,0,1.89,-.3,2.31,-.5,2.48,-.7,2.94,-.8,1.13,-.7,2.16,-1.2,1.71,-1.5,3.45,-1.7,2.8,-1.9,1.8,-2.2,1.76,-2.5,1.56,-2.6,2.44,-2.2,2.4,-2.4,2.34,-2.6,2.36,-2.9,2.65,-2.8,2.75,-2.9,2.87,-2.7,2.89,-2.9,1.86,-3.2,1.48,-3.5,2.67,-3.6,3.05,-3.5,2.51,-3.8,3.24,-3.8,2.85,-4.2,1.88,-4.2,2.25,-4.2,1.99,-4.4,1.97,-4.5,1.78,-4.7,1.61,-4.8,2.61,-4.7,2.67,-4.8,2.8,-4.6];

const susFilledF=[-1.64,11.5,-1.55,14.8,-1.52,13.2,-1.4,14.7,-1.42,12.3,-1.4,11.8,-1.26,11.5,-1.42,8.2,-1.38,8.9,-1.39,8.5,-1.3,8.4,-1.27,8.7,-1.21,8.2,-1.54,6,-1.33,6.6,-1.3,5.4,-1.19,5.1,-1.12,5.7,-1.1,14.8,-1.05,14.9,-.9,14.8,-.68,15,-.64,14.9,-.5,14.7,-.39,14.5,-.39,13.4,-.57,13.9,-.56,13.5,-.58,13,-1.26,13.4,-1.19,12.7,-1.1,13.1,-1.06,12.6,-1,12.3,-.93,12.7,-.84,12.5,-.77,13.2,-.78,12.5,-1.17,12,-1,11.6,-.92,11.8,-.64,12.1,-.61,11.5,-.55,11.9,-.42,11.5,-.22,12.6,-.14,11,-1.04,11,-.78,11.4,-.73,11,-.91,10.7,-.82,10.8,-.7,10.5,-1.2,10.5,-1.1,10.5,-1.06,10.1,-.45,10.1,-.44,9.5,-.25,9,-.39,8.5,-.42,7.8,-1,9.8,-1.17,9.4,-1.1,9.5,-1.02,9.1,-.91,8.8,-.82,9.8,-.75,9.5,-.67,9.5,-.71,9.1,-.99,8.3,-.8,8.1,-.71,7.8,-1.04,7.4,-.96,7.6,-.87,7.4,-.77,7.2,-.69,6.7,-.62,6.7,-.57,6.2,-1.02,6.5,-.82,6.5,-.77,6.2,-.8,5.8,-1,5.6,-.95,5.8,-.91,5.5,-.97,5.2,-.78,5.1,-.61,5.4,-1.08,14.2,-.98,14,-.88,13.6,-.7,13.7,-.75,14.1,-1.16,13.8,-1.02,13.2,-.95,13.3,-.88,12.9,-.82,13,-.98,12.6,-.9,12.2,-.86,12.1,-.95,11.9,-.72,11.9,-.86,11.3,-.98,11.2,-.7,11.4,-.96,10.6,-.88,10.3,-.82,10.2,-.76,10.4,-1.02,9.8,-.94,9.6,-.85,9.4,-.78,9.1,-.88,9,-1.05,8.9,-1.12,9,-.74,8.5,-.8,7.6,-.92,7.2,-.74,6.9,-.76,6,-.92,6.4];
const susOpenF=[-1.27,4.6,-1.16,4.3,-1.16,3.9,-1,4.6,-.94,4.6,-.86,4.6,-.93,4.1,-.85,3.9,-.83,4.4,-.61,4.2,-.56,4.4,-.26,3.9,-1.47,3.2,-1.33,2.6,-1.34,2.4,-.99,2.9,-.91,2.4,-.88,2,-.75,1.7,-.72,2.2,-.68,2,-.48,2.6,-1.14,1.7,-1.29,1.2,-1.3,1.1,-.99,.4,-.37,.6,-.93,-.5,-.59,0,-.49,0,-.39,-1,-.96,-3.2,-.56,-3.7];
const resFilledF=[2.24,-5.1,2.76,-5.3,1.59,-5.9,1.57,-6.2,1.96,-6.1,2.05,-5.8,2.04,-6.3,2.57,-6.1,2.57,-6.6,2.78,-6.5,2.89,-6,3.02,-6,2.97,-6.6,2.98,-7.2,2.22,-6.5,2.27,-6.8,2.18,-7,2.07,-7.2,2,-7.5,2.63,-7.2,1.43,-7.5,1.43,-8.3,1.85,-8.1,1.95,-8.3,2,-8.1,2.31,-8.1,.94,-8.6,1.29,-8.9,1.62,-9,1.79,-9.1,1.82,-9.2,2.07,-8.8,2.44,-8.8,2.48,-8.7,2.57,-8.7,2.62,-8.3,2.67,-8.5,2.67,-8.7,2.61,-9.3,2.08,-9.4,2.12,-9.4,2.02,-9.8,2.17,-9.6,2.11,-10,2.31,-9.6,2.33,-9.8,2.51,-9.9,2.6,-10,3.29,-9.8,3.44,-10,2.76,-10.2,2.92,-10.2,1.9,-10.4,2.56,-10.6,2.7,-10.5,2.96,-10.9,1.73,-10.8,2.36,-10.8,1.62,-11.1,1.62,-11.4,2.05,-11.1,2.12,-11.3,2.27,-11.5,1.55,-12,1.57,-12.5,1.99,-12,1.98,-12.5,2.11,-12.1,2.12,-12.4,2.14,-12.8,2.28,-12.3,2.61,-12,2.71,-11.8,2.75,-12.3,2.92,-12.3,1.29,-12.5,2.48,-12.6,2.65,-12.8,2.75,-12.9,1.86,-13.1,.95,-13.3,2.15,-13.6,2.31,-13.5,2.44,-13.6,2.56,-13.8,3.06,-13.6,1.32,-14.1,.94,-14.4,1.62,-14.4,1.98,-14.1,1.99,-14.7,2.61,-14.5,2.31,-14.8,2.34,-15,2.48,-14.8,1.11,-15.5,1.78,-15.6,1.53,-15.8,1.99,-15.4,2.07,-15.8,2.38,-15.7,2.48,-15.7,1.4,-16.1,2.25,-16.1,2.31,-16.1,2.58,-16.1,3.2,-16.1,1.5,-16.7,2.04,-16.7,1.52,-17.6,1.82,-17.3,2.39,-17.7,2.45,-17.7,2.54,-17.8,2.53,-18.5,2.76,-17.7,2.82,-18.1,3.08,-17.9,1.69,-18.6,2.36,-19.4,2.61,-19.9,2.66,-20,2.95,-19.7,2.92,-20,1.79,-20.8,2.74,-20.7,2.23,-21,2.19,-23.1,2.21,-23.3];
const resOpenF=[1.61,8.4,2.13,5.4,2.41,5.7,2.31,4.7,1.95,1.6,1.44,1,2.82,.6,3.19,1,1.65,-.7,1.94,-.8,1.97,-1.6,1.73,-1.9,2.17,-1.7,2.31,-1.1,2.44,-1,2.45,-1.9,2.69,-1,3.09,-.6,3.28,-.4,2.34,-2.4,1.97,-2.9,2.02,-3.3,2.12,-2.8,2.2,-3.3,2.11,-3.9,2.45,-3.1,2.65,-3.4,1.43,-3.8,1.74,-4,1.83,-3.7,1.58,-4.7,2.64,-4.3,2.68,-4.5,2.93,-4.6];

/* ---------- helpers ---------- */
const NS='http://www.w3.org/2000/svg';
function el(tag,name,attrs,parent){
  const e=document.createElementNS(NS,tag);
  
  
  for(const k in attrs){e.setAttribute(k,attrs[k]);}
  parent.appendChild(e);
  return e;
}
function txt(parent,name,str,x,y,size,o){
  o=o||{};
  const a={x:x,y:y,'font-size':size,'text-anchor':o.anchor||'middle','dominant-baseline':'central',fill:o.fill||'#222'};
  if(o.bold){a['font-weight']='bold';}
  if(o.rotate!==undefined){a.transform='rotate('+o.rotate+' '+x+' '+y+')';}
  const t=el('text',name,a,parent);
  t.textContent=str;
  return t;
}
function line(parent,name,x1,y1,x2,y2,stroke,width,dash,opacity){
  const a={x1:x1,y1:y1,x2:x2,y2:y2,stroke:stroke,'stroke-width':width};
  if(dash){a['stroke-dasharray']=dash;}
  if(opacity!==undefined){a['stroke-opacity']=opacity;}
  return el('line',name,a,parent);
}
function rect(parent,name,x,y,w,h,fill,extra){
  const a={x:x,y:y,width:w,height:h,fill:fill};
  if(extra){for(const k in extra){a[k]=extra[k];}}
  return el('rect',name,a,parent);
}

/* ---------- panel A: network ---------- */
(function(){
  const g=document.getElementById('network');
  const nx=v=>v*.88, ny=v=>v*.797, nr=v=>v*.84;
  const groups=[['acidic',nodesAcidic,'#4fa64c'],['ester',nodesEster,'#efc93f'],['maillard',nodesMaillard,'#4a7bab'],['phenolic',nodesPhenolic,'#9189be']];
  const all=[];
  groups.forEach(gr=>{for(let i=0;i<gr[1].length;i+=3){all.push([gr[1][i],gr[1][i+1],gr[1][i+2]]);}});
  function edges(list,name,op,w){
    for(let i=0;i<list.length;i+=2){
      const a=all[list[i]],b=all[list[i+1]];
      line(g,name,nx(a[0]),ny(a[1]),nx(b[0]),ny(b[1]),'#9a9a9a',w,null,op);
    }
  }
  edges(edgesFaint,'network-edge-faint',.32,1.7);
  edges(edgesLocal,'network-edge-local',.5,1.7);
  edges(edgesStrong,'network-edge',.58,1.7);
  [2,1,0,3].forEach(idx=>{
    const gr=groups[idx];
    for(let i=0;i<gr[1].length;i+=3){
      el('circle','node-'+gr[0],{cx:nx(gr[1][i]),cy:ny(gr[1][i+1]),r:nr(gr[1][i+2]),fill:gr[2]},g);
    }
  });
  const lg=document.getElementById('network-legend');
  const cx=[186,435,691,1001], tx=[224,473,729,1041];
  legendNames.forEach((n,i)=>{
    el('circle','legend-dot-'+groups[i][0],{cx:cx[i],cy:1224,r:12,fill:groups[i][2]},lg);
    txt(lg,'legend-label-'+groups[i][0],n,tx[i],1224,23,{anchor:'start',fill:'#333'});
  });
})();

/* ---------- panel A: bars ---------- */
function barPanel(cfg){
  const root=document.getElementById('bars');
  const g=el('g',cfg.name,{},root);
  const sx=v=>1557+v*9.2125;
  const colors=['#72b26a','#efd05f','#6b90bd','#9f9bc6'];
  const jitter=[-4,3,-2,5,0,-5,2,-3,4,1,-1,-4,5];
  barGroups.forEach((grp,gi)=>{
    const top=cfg.tops[gi];
    line(g,'facet-axis-'+grp.toLowerCase(),1557,top,1557,top+93,'#111',3);
    if(gi===3){
      const clipGroup=el('g','facet-label-clip',{'clip-path':'url(#'+cfg.clip+')'},g);
      txt(clipGroup,'facet-label-phenolic',grp,1409,top+1,26,{bold:true,rotate:-90,anchor:'end',fill:'#111'});
    }else{
      txt(g,'facet-label-'+grp.toLowerCase(),grp,1409,top+46.5,26,{bold:true,rotate:-90,fill:'#111'});
    }
    cfg.categories.forEach((cat,ci)=>{
      const cy=top+cfg.offsets[ci];
      const v=cfg.means[gi][ci];
      rect(g,'bar-'+grp.toLowerCase()+'-'+cat.toLowerCase(),sx(0),cy-cfg.h/2,sx(v)-sx(0),cfg.h,colors[gi],{stroke:'#1d1d1d','stroke-width':2.6});
      txt(g,'category-label',cat,1543,cy,23,{anchor:'end',fill:'#333'});
      line(g,'category-tick',1550,cy,1557,cy,'#111',2);
      const lo=cfg.low[gi][ci],hi=cfg.high[gi][ci];
      line(g,'error-bar',sx(lo),cy,sx(hi),cy,'#333',1.8);
      line(g,'error-cap',sx(lo),cy-4,sx(lo),cy+4,'#333',1.8);
      line(g,'error-cap',sx(hi),cy-4,sx(hi),cy+4,'#333',1.8);
      cfg.points[gi][ci].forEach((p,pi)=>{
        el('circle','data-point',{cx:sx(p),cy:cy+jitter[pi%jitter.length],r:4,fill:'#222','fill-opacity':.62},g);
      });
    });
  });
  line(g,'x-axis',1557,cfg.axis,2370,cfg.axis,'#111',3);
  barTicks.forEach(t=>{
    line(g,'x-tick',sx(t),cfg.axis,sx(t),cfg.axis+7,'#111',2);
    txt(g,'x-tick-label',String(t),sx(t),cfg.tickY,23,{fill:'#333'});
  });
  txt(g,'x-axis-title',cfg.title,1962,cfg.titleY,32.4,{fill:'#333'});
}
barPanel({name:'binding-bar-chart',categories:bindCategories,means:bindMeans,low:bindErrLow,high:bindErrHigh,points:bindPoints,tops:[151,255,359,462.5],offsets:[25,67],h:28,axis:555,tickY:578,titleY:610,title:'Binding Probability (%)',clip:'clip-facet-1'});
barPanel({name:'stability-bar-chart',categories:stabCategories,means:stabMeans,low:stabErrLow,high:stabErrHigh,points:stabPoints,tops:[706.6,810.5,914,1019],offsets:[18.4,47,76.4],h:20,axis:1112,tickY:1135,titleY:1167,title:'Conformational Stability (%)',clip:'clip-facet-2'});

/* ---------- panel B: EDA ---------- */
(function(){
  const g=document.getElementById('eda');
  const sy=v=>884-v*579;
  const cx=[2701,2922,3143,3364], w=120;
  const series=[
    ['vdw',edaVdw,'#2c5282','\u0394E vdW',1],
    ['electrostatic',edaElectrostatic,'#4299e1','\u0394E electrostatic',1],
    ['non-polar',edaNonPolar,'#38a169','\u0394G non-polar',1],
    ['polar',edaPolar,'#f6ad55','\u0394G polar',-1],
    ['entropy',edaEntropy,'#e53e3e','T\u0394S penalty',-1],
    ['steric',edaSteric,'#718096','Steric clash',-1]];
  edaCategories.forEach((c,i)=>{
    let pos=0,neg=0;
    series.forEach(s=>{
      const v=s[1][i];
      if(v===0){return;}
      let y0,y1;
      if(s[4]>0){y0=pos;pos+=v;y1=pos;}else{y0=neg;neg-=v;y1=neg;}
      const top=Math.min(sy(y0),sy(y1)),h=Math.abs(sy(y1)-sy(y0));
      rect(g,'bar-'+s[0]+'-'+c.toLowerCase().replace(/[^a-z]+/g,'-'),cx[i]-w/2,top,w,h,s[2],{stroke:'#fff','stroke-opacity':.7,'stroke-width':2});
    });
    txt(g,'x-tick-label',c,cx[i],1178,26,{bold:true,fill:'#111'});
    line(g,'x-tick',cx[i],1158,cx[i],1164,'#111',2);
  });
  line(g,'y-axis',2569,202,2569,1159,'#111',3);
  line(g,'x-axis',2569,1158.5,3498,1158.5,'#111',3);
  line(g,'zero-line',2569,884,3498,884,'#111',3.5);
  edaTicks.forEach(t=>{
    line(g,'y-tick',2563,sy(t),2569,sy(t),'#111',2);
    txt(g,'y-tick-label',t.toFixed(1),2560,sy(t),25,{anchor:'end',fill:'#333'});
  });
  function arrow(name,x,v,color,w2){
    line(g,name,x,sy(0)-6,x,sy(v)+6,color,w2);
    el('polygon',name+'-head-top',{points:(x-6)+','+(sy(v)+10)+' '+(x+6)+','+(sy(v)+10)+' '+x+','+sy(v),fill:color},g);
    el('polygon',name+'-head-bottom',{points:(x-6)+','+(sy(0)-10)+' '+(x+6)+','+(sy(0)-10)+' '+x+','+sy(0),fill:color},g);
  }
  arrow('natural-gap-arrow',3066,edaGapSmall,'#555',2.5);
  arrow('biomimetic-gap-arrow',3287,edaGapLarge,'#2c5282',3.5);
  txt(g,'natural-gap-label','0.41',3110,740,22,{fill:'#555'});
  txt(g,'biomimetic-gap-label','0.84 kcal/mol',3332,624,28,{bold:true,fill:'#2c5282'});
  const leg=[[5,2757,2796,115.5],[4,2955,2994,115.5],[3,3179,3217,115.5],[2,2757,2796,156],[1,2955,2994,156],[0,3179,3217,156]];
  leg.forEach(l=>{
    const s=series[l[0]];
    rect(g,'legend-swatch-'+s[0],l[1],l[3]-12,25,24,s[2]);
    txt(g,'legend-label-'+s[0],s[3],l[2],l[3],24,{anchor:'start',fill:'#333'});
  });
})();

/* ---------- panels C-F ---------- */
const LOG_BLUE_END=.07, LOG_YELLOW_END=.77, LOG_MID=.477, LOG_CONC=1.6, LOG_S=-1, LOG_R=2.3, LOG_NANO=3.84;
const BIN_START=-1.92, BIN_END=3.905;
function badge(g,name,label,cx,cy,w,h,fill,size,rx,stroke,rotate){
  const a={rx:rx,stroke:stroke,'stroke-width':1.6};
  if(rotate){a.transform='rotate(-90 '+cx+' '+cy+')';}
  rect(g,name,cx-w/2,cy-h/2,w,h,fill,a);
  const o={fill:'#fff',bold:size>15};
  if(rotate){o.rotate=-90;}
  txt(g,name+'-text',label,cx,cy,size,o);
}
function histPanel(cfg){
  const root=document.getElementById('panels');
  const g=el('g',cfg.name,{},root);
  const sx=v=>cfg.x0+(v+2)*(cfg.x1-cfg.x0)/6;
  const sy=v=>cfg.y0-v*(cfg.y0-cfg.y80)/80;
  rect(g,'susceptible-band',sx(-2),cfg.top,sx(LOG_BLUE_END)-sx(-2),cfg.y0-cfg.top,'#e6eef7');
  rect(g,'intermediate-band',sx(LOG_BLUE_END),cfg.top,sx(LOG_YELLOW_END)-sx(LOG_BLUE_END),cfg.y0-cfg.top,'#fff8ea');
  rect(g,'resistant-band',sx(LOG_YELLOW_END),cfg.top,sx(4)-sx(LOG_YELLOW_END),cfg.y0-cfg.top,'#f8eaea');
  const bw=(BIN_END-BIN_START)/cfg.counts.length;
  cfg.counts.forEach((c,i)=>{
    if(c===0){return;}
    const l=BIN_START+i*bw;
    rect(g,'histogram-bar',sx(l),sy(c),sx(l+bw)-sx(l),sy(0)-sy(c),l<.4?'#03468c':'#ab002b',{stroke:'#111','stroke-width':2.4});
  });
  line(g,'histogram-baseline',sx(BIN_START),sy(0),sx(BIN_END),sy(0),'#111',2.4);
  line(g,'lower-breakpoint-line',sx(LOG_BLUE_END),cfg.top,sx(LOG_BLUE_END),cfg.bottom,'#444',2.4,'9 7');
  line(g,'upper-breakpoint-line',sx(LOG_MID),cfg.top,sx(LOG_MID),cfg.bottom,'#222',2.4,'9 7');
  line(g,'concentration-line',sx(LOG_CONC),cfg.top,sx(LOG_CONC),cfg.bottom,'#222',2.2,'10 4 2 4');
  line(g,'y-axis',cfg.x0,cfg.top,cfg.x0,cfg.bottom,'#111',3);
  line(g,'x-axis',cfg.x0,cfg.bottom,cfg.x1,cfg.bottom,'#111',3);
  histTicks.forEach(t=>{
    line(g,'y-tick',cfg.x0-6,sy(t),cfg.x0,sy(t),'#111',2);
    txt(g,'y-tick-label',String(t),cfg.x0-11,sy(t),23,{anchor:'end',fill:'#333'});
  });
  logTicks.forEach(t=>{
    line(g,'x-tick',sx(t),cfg.bottom,sx(t),cfg.bottom+7,'#111',2);
    const tl=txt(g,'x-tick-label','10',sx(t)-3,cfg.tickY,23,{fill:'#333'});
    const sup=el('tspan','x-tick-exponent',{dy:-8,'font-size':15},tl);
    sup.textContent=String(t);
  });
  txt(g,'y-axis-title','no. of trajectories',cfg.ylabX,cfg.ylabY,21.5,{rotate:-90,fill:'#333'});
  txt(g,'x-axis-title',cfg.xlabel,cfg.cx,cfg.xlabY,22,{fill:'#444'});
  txt(g,'sample-count',cfg.count,cfg.cx,cfg.nY,20.5,{bold:true,fill:'#111'});
  badge(g,'susceptible-badge','\u2264 S',sx(LOG_S),sy(35),36,22,'#03468c',18,3,'#cfe0f0');
  badge(g,'resistant-badge','R >',sx(LOG_R),sy(35),34,21,'#ab002b',18,3,'#f5dfe3');
  badge(g,'concentration-badge','Conc.',sx(LOG_CONC),sy(30),41,16,'#000',13.5,2,'#fff');
}
function scatterPanel(cfg){
  const root=document.getElementById('panels');
  const g=el('g',cfg.name,{},root);
  const sx=v=>cfg.x0+(v+2)*(cfg.x1-cfg.x0)/6;
  const sy=v=>cfg.y0-v*(cfg.y0-cfg.y10)/10;
  const h=cfg.bottom-cfg.top;
  rect(g,'susceptible-band',sx(-2),cfg.top,sx(LOG_BLUE_END)-sx(-2),h,'#e6eef7');
  rect(g,'intermediate-band',sx(LOG_BLUE_END),cfg.top,sx(LOG_YELLOW_END)-sx(LOG_BLUE_END),h,'#fff8ea');
  rect(g,'resistant-band',sx(LOG_YELLOW_END),cfg.top,sx(4)-sx(LOG_YELLOW_END),h,'#f8eaea');
  line(g,'concentration-line',sx(LOG_CONC),cfg.top,sx(LOG_CONC),cfg.bottom,'#111',2.2,'10 4 2 4');
  line(g,'zero-line',cfg.x0,sy(0),cfg.x1,sy(0),'#333',2.4);
  function pts(list,name,r,fill,stroke){
    for(let i=0;i<list.length;i+=2){
      const a={cx:sx(list[i]),cy:sy(list[i+1]),r:r,fill:fill};
      if(stroke){a.stroke=stroke;a['stroke-width']=1.7;}
      el('circle',name,a,g);
    }
  }
  pts(cfg.sOpen,'susceptible-open-point',4.4,'#f4f7fb','#7ea6cc');
  pts(cfg.rOpen,'resistant-open-point',4.4,'#fbf3f4','#d57b97');
  pts(cfg.sFilled,'susceptible-point',6,'#03468c');
  pts(cfg.rFilled,'resistant-point',6,'#b0002c');
  line(g,'y-axis',cfg.x0,cfg.top,cfg.x0,cfg.bottom,'#222',3);
  line(g,'x-axis',cfg.x0,cfg.bottom,cfg.x1,cfg.bottom,'#222',3);
  scoreTicks.forEach(t=>{
    line(g,'y-tick',cfg.x0-6,sy(t),cfg.x0,sy(t),'#111',2);
    txt(g,'y-tick-label',String(t),cfg.x0-11,sy(t),23,{anchor:'end',fill:'#333'});
  });
  logTicks.forEach((t,i)=>{
    line(g,'x-tick',sx(t),cfg.bottom,sx(t),cfg.bottom+7,'#111',2);
    txt(g,'x-tick-label',scatterTickLabels[i],sx(t),cfg.tickY,23,{fill:'#333'});
  });
  txt(g,'y-axis-title','score',cfg.ylabX,cfg.ylabY,20.5,{rotate:-90,fill:'#333'});
  txt(g,'x-axis-title',cfg.xlabel,cfg.cx,cfg.xlabY,22,{fill:'#444'});
  txt(g,'sample-count',cfg.count,cfg.cx,cfg.nY,20.5,{bold:true,fill:'#111'});
  badge(g,'s-reference-badge','S REFERENCE',sx(LOG_S),sy(14),93,15,'#03468c',12.5,7,'#fff');
  badge(g,'r-reference-badge','R REFERENCE',sx(LOG_R),sy(14),93,15,'#b0002c',12.5,7,'#fff');
  badge(g,'concentration-badge','Conc.',sx(LOG_CONC),sy(10),47,18,'#000',15,2,'#fff');
  badge(g,'s-nanomotion-badge','S NANOMOTION',sx(LOG_NANO),sy(5),108,15,'#0d5da8',12,7,'#fff',true);
  badge(g,'r-nanomotion-badge','R NANOMOTION',sx(LOG_NANO),sy(-10),108,15,'#b0002c',12,7,'#fff',true);
}
histPanel({name:'panel-c-histogram',counts:histCountsC,x0:96,x1:889,top:1364,bottom:2076.5,y0:2044,y80:1434,tickY:2104,ylabX:37,ylabY:1721,cx:492,xlabY:2131,nY:1339,xlabel:'Binding Affinity (\u00b5g/ml)',count:'n strains = 160'});
histPanel({name:'panel-d-histogram',counts:histCountsD,x0:1924,x1:2729,top:1364,bottom:2075,y0:2043,y80:1380,tickY:2103,ylabX:1863,ylabY:1720,cx:2326,xlabY:2130,nY:1339,xlabel:'Interaction Energy (\u00b5g/ml)',count:'n strains = 120'});
histPanel({name:'panel-e-histogram',counts:histCountsE,x0:101.5,x1:893.6,top:2272,bottom:2999,y0:2966,y80:2298,tickY:3027,ylabX:43,ylabY:2635,cx:497,xlabY:3055,nY:2247.5,xlabel:'Stacking Potential (\u00b5g/ml)',count:'n strains = 200'});
histPanel({name:'panel-f-histogram',counts:histCountsF,x0:1925,x1:2731,top:2273,bottom:3011,y0:2978,y80:2291.5,tickY:3040,ylabX:1866,ylabY:2644,cx:2327,xlabY:3068,nY:2248,xlabel:'Free Energy (\u0394G) (\u00b5g/ml)',count:'n strains = 150'});
scatterPanel({name:'panel-c-scatter',sFilled:susFilledC,sOpen:susOpenC,rFilled:resFilledC,rOpen:resOpenC,x0:993,x1:1786.6,top:1363.4,bottom:2075.6,y0:1639.4,y10:1477,tickY:2097,ylabX:925,ylabY:1720,cx:1389,xlabY:2131,nY:1339,xlabel:'Binding Affinity (\u00b5g/ml)',count:'n samples = 487'});
scatterPanel({name:'panel-d-scatter',sFilled:susFilledD,sOpen:susOpenD,rFilled:resFilledD,rOpen:resOpenD,x0:2834.5,x1:3640,top:1363,bottom:2074,y0:1638,y10:1476.7,tickY:2095,ylabX:2765,ylabY:1720,cx:3236,xlabY:2130,nY:1339,xlabel:'Interaction Energy (\u00b5g/ml)',count:'n samples = 512'});
scatterPanel({name:'panel-e-scatter',sFilled:susFilledE,sOpen:susOpenE,rFilled:resFilledE,rOpen:resOpenE,x0:996,x1:1788,top:2272,bottom:2998.6,y0:2553.5,y10:2389,tickY:3020,ylabX:929,ylabY:2636,cx:1392,xlabY:3055,nY:2247,xlabel:'Stacking Potential (\u00b5g/ml)',count:'n samples = 600'});
scatterPanel({name:'panel-f-scatter',sFilled:susFilledF,sOpen:susOpenF,rFilled:resFilledF,rOpen:resOpenF,x0:2836,x1:3643,top:2273.5,bottom:3010.8,y0:2559.8,y10:2392.7,tickY:3032,ylabX:2768,ylabY:2643.5,cx:3238,xlabY:3068,nY:2248.5,xlabel:'Free Energy (\u0394G) (\u00b5g/ml)',count:'n samples = 450'});
</script>
</body>
</html>
